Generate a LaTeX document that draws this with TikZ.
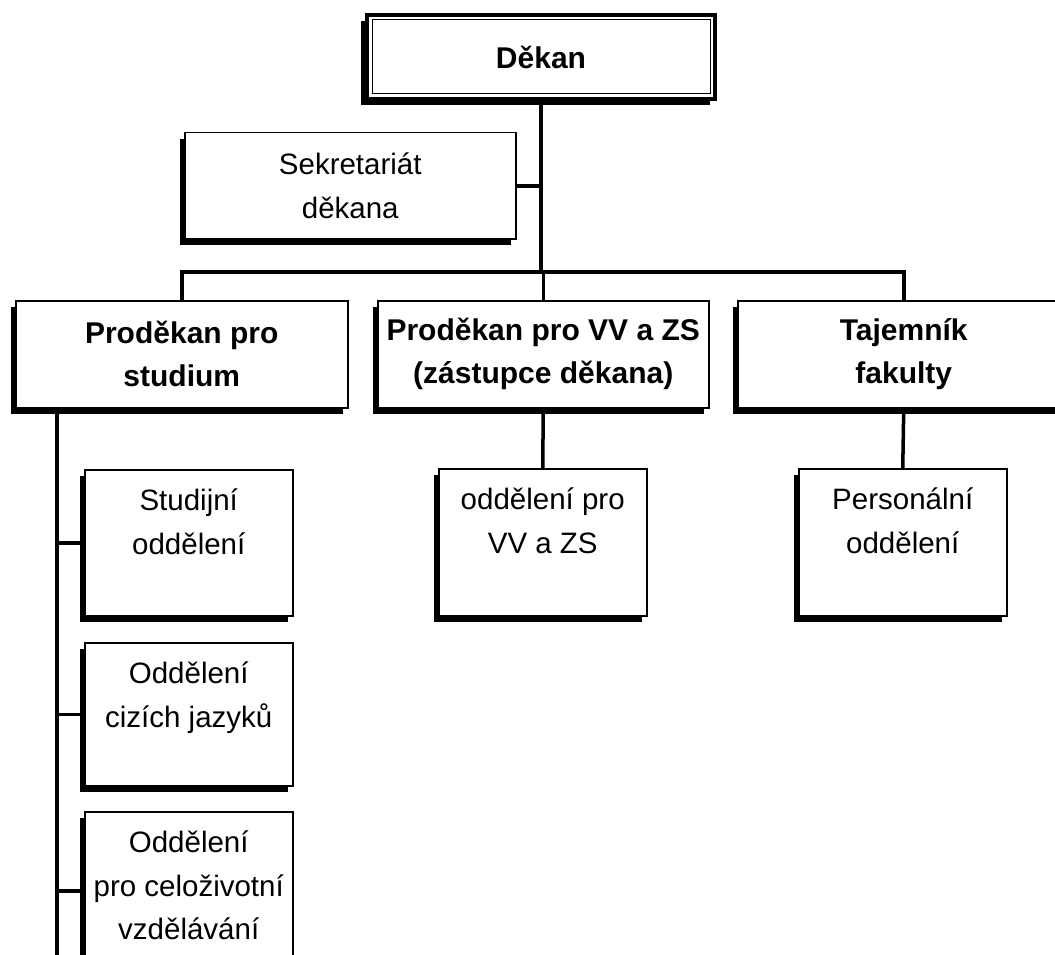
\documentclass[tikz,border=0pt]{standalone}
\usepackage{fontspec}
\setmainfont{Liberation Sans}
\usetikzlibrary{shadows}
\newcommand{\FB}{\fontsize{30}{43}\selectfont\bfseries}
\newcommand{\FR}{\fontsize{29.5}{43.5}\selectfont}
\newcommand{\topbox}[2]{\parbox[c][#1][t]{208pt}{\centering\rule{0pt}{41pt}#2}}

\begin{document}
\begin{tikzpicture}[x=1pt,y=-1pt]
\tikzstyle{unit}=[draw=black,fill=white,line width=1.5pt,inner sep=0pt,anchor=north west,
  drop shadow={shadow xshift=-5pt,shadow yshift=-6pt,opacity=1,fill=black}]
\tikzstyle{head}=[unit,font=\FB,align=center]
\tikzstyle{dept}=[unit,font=\FR]
\tikzstyle{conn}=[black,line width=3.5pt]

\useasboundingbox (0,0) rectangle (1055,955);
\clip (0,0) rectangle (1055,955);

% vedeni
\node[head,line width=4pt,minimum width=348pt,minimum height=84pt,
  drop shadow={shadow xshift=-6pt,shadow yshift=-6pt,opacity=1,fill=black}] (dekan) at (365,13) {Děkan};
\draw[line width=1pt] ([xshift=7pt,yshift=-7pt]dekan.north west) rectangle ([xshift=-7pt,yshift=7pt]dekan.south east);

\node[unit,font=\FR,align=center,minimum width=331pt,minimum height=106pt] (sekr) at (184,132) {Sekretariát\\děkana};

\node[head,minimum width=332pt,minimum height=107pt] (pstud) at (15,300) {Proděkan pro\\studium};
\node[head,minimum width=331pt,minimum height=107pt] (pvv) at (377,300) {Proděkan pro VV a ZS\\(zástupce děkana)};
\node[head,minimum width=332pt,minimum height=107pt] (ptaj) at (737,300) {Tajemník\\fakulty};

% oddeleni
\node[dept] (ostud) at (84,469) {\topbox{146pt}{Studijní\\oddělení}};
\node[dept] (ojaz) at (84,642) {\topbox{143pt}{Oddělení\\cizích jazyků}};
\node[dept] (ocelo) at (84,811) {\topbox{158pt}{Oddělení\\pro celoživotní\\vzdělávání}};
\node[dept] (ovv) at (438,468) {\topbox{147pt}{oddělení pro\\VV a ZS}};
\node[dept] (opers) at (798,468) {\topbox{147pt}{Personální\\oddělení}};

\coordinate (bar) at (541,272);
\coordinate (trunk) at (57,960);

\draw[conn] (dekan.south) -- (dekan.south |- bar);
\draw[conn] (sekr.east) -- (sekr.east -| dekan.south);
\draw[conn] (pstud.north) |- (bar) -| (ptaj.north);
\draw[conn] (pvv.north) -- (pvv.north |- bar);
\draw[conn] (pvv.south) -- (ovv.north);
\draw[conn] (ptaj.south) -- (opers.north);
\draw[conn] (pstud.south -| trunk) -- (trunk);
\foreach \d in {ostud,ojaz,ocelo}
  \draw[conn] (\d.west -| trunk) -- (\d.west);
\end{tikzpicture}
\end{document}
